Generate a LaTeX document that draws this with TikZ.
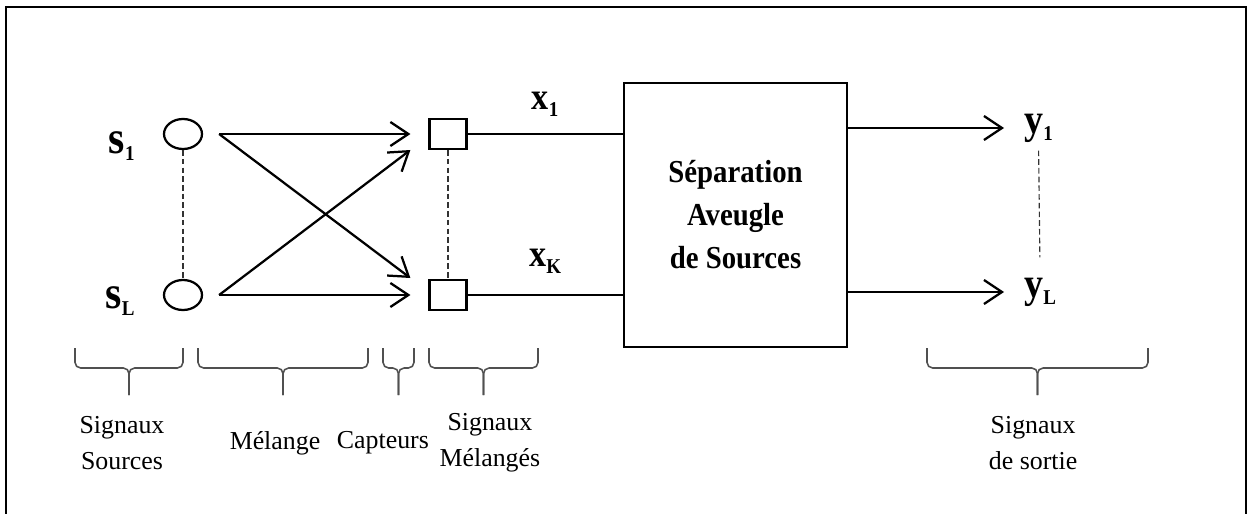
\documentclass[tikz,border=0pt]{standalone}
\usepackage{fontspec}
\setmainfont{Liberation Serif}
\newfontfamily\bssfont[FakeStretch=0.9]{Liberation Serif}
\usetikzlibrary{positioning,shapes,arrows.meta}

\definecolor{brcgray}{RGB}{80,80,80}
\tikzstyle{source} = [ellipse, minimum width=0.95cm, minimum height=0.75cm, inner sep=0pt, draw=black, line width=1.6pt]
\tikzstyle{sensor} = [rectangle, minimum width=0.925cm, minimum height=0.75cm, inner sep=0pt, draw=black, line width=1.6pt]
\tikzstyle{bss} = [rectangle, minimum width=5.575cm, minimum height=6.6cm, draw=black, line width=2pt, align=center, font=\bssfont\bfseries\fontsize{22.75}{30.6}\selectfont]
\tikzstyle{sig} = [inner sep=0pt, font=\bssfont\bfseries]
\tikzstyle{lbl} = [align=center, inner sep=0pt, font=\fontsize{18.4}{25.6}\selectfont]
\tikzstyle{arrow} = [line width=1.6pt, -{Straight Barb[length=0.45cm,width=0.6cm]}]
\tikzstyle{wire} = [line width=1.6pt]
\tikzstyle{dots} = [draw=black!80, line width=0.8pt, dash pattern=on 4pt off 2.2pt]
\tikzstyle{brc} = [draw=brcgray, line width=1.1pt, rounded corners=4pt]
\tikzstyle{frame} = [line width=1.8pt]
\newcommand{\sigtxt}[3]{{\fontsize{#3}{#3}\selectfont #1}\raisebox{-5pt}{\fontsize{15}{15}\selectfont #2}}
\newcommand{\sbrace}[3]{%
  \coordinate (#3) at ({(#1+#2)/2},-9.875);
  \draw [brc] (#1,-8.7) -- (#1,-9.2) -- ({(#1+#2)/2},-9.2) -- (#3);
  \draw [brc] (#2,-8.7) -- (#2,-9.2) -- ({(#1+#2)/2},-9.2) -- (#3);
}
\def\lbly{-11.075}

\begin{document}
\begin{tikzpicture}
\useasboundingbox (0,0) rectangle (31.3,-12.85);
\draw [frame] (0.15,-12.85) |- (31.15,-0.175) -- (31.15,-12.85);

% sources
\node (s1) [source] at (4.575,-3.35) {};
\node (sL) [source] at (4.575,-7.375) {};
\node (ls1) [sig, left=0.7cm of s1, yshift=-0.3cm] {\sigtxt{s}{1}{33}};
\node (lsL) [sig, left=0.7cm of sL, yshift=-0.15cm] {\sigtxt{s}{L}{33}};
\draw [dots] (s1) -- (sL);

% capteurs
\node (c1) [sensor] at (11.2,-3.35) {};
\node (cK) [sensor] at (11.2,-7.375) {};
\draw [dots] (c1) -- (cK);

% melange
\draw [arrow] ([xshift=0.4cm]s1.east) -- ([xshift=-0.45cm]c1.west);
\draw [arrow] ([xshift=0.4cm]s1.east) -- ([xshift=-0.45cm,yshift=0.425cm]cK.west);
\draw [arrow] ([xshift=0.4cm]sL.east) -- ([xshift=-0.45cm,yshift=-0.4cm]c1.west);
\draw [arrow] ([xshift=0.4cm]sL.east) -- ([xshift=-0.45cm]cK.west);

% separation
\node (bss) [bss] at (18.3875,-5.375) {S\'eparation\\Aveugle\\de Sources};
\draw [wire] (c1) -- node[sig, above=0.4cm] {\sigtxt{x}{1}{27}} (bss.west |- c1);
\draw [wire] (cK) -- node[sig, above=0.5cm] {\sigtxt{x}{K}{27}} (bss.west |- cK);

% sorties
\node (y1) [sig, anchor=west] at (25.6,-3.2) {\sigtxt{y}{1}{30}};
\node (yL) [sig, anchor=west] at (25.6,-7.3) {\sigtxt{y}{L}{30}};
\draw [arrow] (bss.east |- y1.west) -- ([xshift=-0.5cm]y1.west);
\draw [arrow] (bss.east |- yL.west) -- ([xshift=-0.5cm]yL.west);
\draw [dots, shorten <=0.2cm, shorten >=0.5cm] (y1.south) -- (yL.north);

% accolades
\sbrace{1.875}{4.575}{b1}
\sbrace{4.95}{9.2}{b2}
\sbrace{9.575}{10.35}{b3}
\sbrace{10.725}{13.45}{b4}
\sbrace{23.175}{28.7}{b5}

\node (lsrc) [lbl, xshift=-0.175cm] at (b1 |- 0,\lbly) {Signaux\\Sources};
\node (lmel) [lbl, xshift=-0.2cm] at (b2 |- 0,\lbly) {M\'elange};
\node (lcap) [lbl, xshift=-0.39cm] at (b3 |- 0,\lbly) {Capteurs};
\node (lmix) [lbl, xshift=0.16cm] at (b4 |- 0,\lbly) {Signaux\\M\'elang\'es};
\node (lout) [lbl, xshift=-0.11cm] at (b5 |- 0,\lbly) {Signaux\\de sortie};

\end{tikzpicture}
\end{document}
